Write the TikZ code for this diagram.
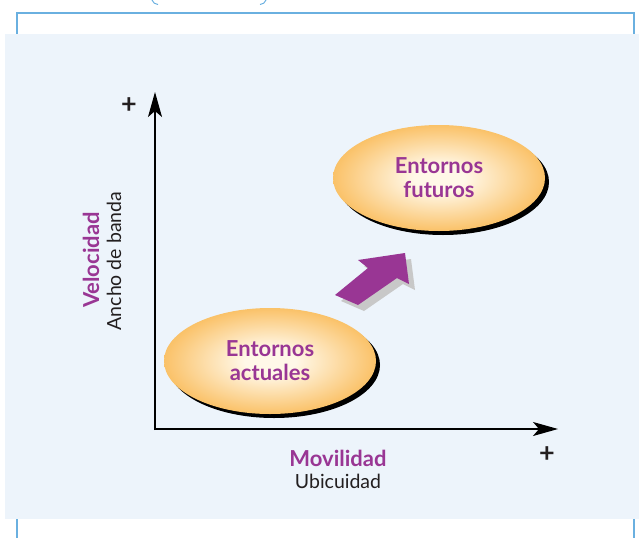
\documentclass[tikz,border=0pt]{standalone}
\usepackage{fontspec}
\setmainfont{Lato}
\usetikzlibrary{arrows.meta,shapes.geometric,shadows,calc}

\definecolor{panel}{RGB}{237,244,251}
\definecolor{frameblue}{RGB}{106,176,224}
\definecolor{plum}{RGB}{153,54,148}
\definecolor{orng}{RGB}{248,168,44}
\definecolor{glowc}{RGB}{255,248,232}
\definecolor{ashgray}{RGB}{200,200,200}
\definecolor{ink}{RGB}{35,31,32}

\pgfdeclareradialshading{glow}{\pgfpoint{0bp}{0bp}}{%
  color(0bp)=(glowc); color(6bp)=(glowc); color(34bp)=(orng);
  color(50bp)=(orng); color(100bp)=(orng)}

\tikzset{
  env/.style={ellipse, inner sep=0pt, minimum width=212pt, minimum height=106pt,
    shading=glow,
    general shadow={fill=black, shadow xshift=4pt, shadow yshift=-4pt},
    align=center, text=plum, font=\fontsize{22}{24}\selectfont\bfseries},
  axis/.style={line width=1.2pt, draw=black,
    -{Stealth[length=25pt, width=14pt, inset=6pt]}},
  plus/.style={font=\fontsize{27}{27}\selectfont\bfseries, text=ink},
  keyword/.style={font=\fontsize{22}{24}\selectfont\bfseries, text=plum},
  subword/.style={font=\fontsize{19.5}{24}\selectfont, text=ink},
  rim/.style={draw=frameblue, line width=2.5pt},
}

\begin{document}
\begin{tikzpicture}[x=1pt, y=-1pt]
  \useasboundingbox (0,0) rectangle (639,538);

  % outer frame and panel
  \draw[rim] (17,36) -- (17,13) -- (634,13) -- (634,36);
  \draw[rim] (17,516) -- (17,538);
  \draw[rim] (634,516) -- (634,538);
  \draw[draw=frameblue, line width=1pt] (152,0) .. controls (153,3) and (155,4) .. (158,4.5);
  \draw[draw=frameblue, line width=1pt] (266,0) .. controls (265,3) and (263,4) .. (260,4.5);
  \fill[panel] (5,34) rectangle (639,518.5);

  % axes
  \coordinate (origin) at (155,429);
  \coordinate (ytip) at (155,92);
  \coordinate (xtip) at (558,429);
  \draw[axis] ($(origin)+(0,1)$) -- (ytip);
  \draw[axis] (origin) -- (xtip);

  \node[plus] (yplus) at (129,106) {+};
  \node[plus] (xplus) at (547,455) {+};

  % axis labels
  \node[keyword] (mov) at (338,458) {Movilidad};
  \node[subword] (ubi) at (338,481) {Ubicuidad};
  \node[keyword, rotate=90] (vel) at (91,260) {Velocidad};
  \node[subword, rotate=90] (anc) at (114,261) {Ancho de banda};

  % environments
  \node[env] (now) at (270,361) {Entornos\\actuales};
  \node[env] (next) at (439,178) {Entornos\\futuros};

  % transition arrow with its shadow
  \fill[ashgray, shift={(6pt,-6pt)}] (335,295) -- (368,268) -- (358,260) -- (405,253)
    -- (409,284) -- (397,278) -- (358,305) -- cycle;
  \fill[plum] (335,295) -- (368,268) -- (358,260) -- (405,253)
    -- (409,284) -- (397,278) -- (358,305) -- cycle;
\end{tikzpicture}
\end{document}
